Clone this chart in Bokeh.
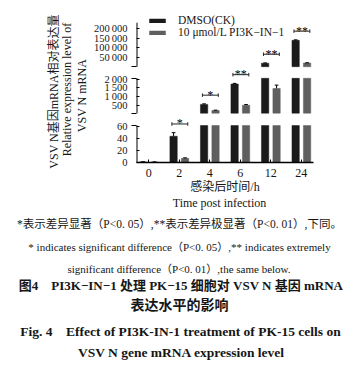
import numpy as np
from bokeh.plotting import figure
from bokeh.layouts import column, row
from bokeh.models import Range1d, FixedTicker, Legend, LegendItem
from bokeh.core.properties import value
from bokeh.embed import file_html
from bokeh.resources import INLINE

# ---------------- data ----------------
times = ["0", "2", "4", "6", "12", "24"]
dmso = [1.0, 44.0, 560.0, 1720.0, 20000.0, 139000.0]
dmso_err = [0.3, 6.0, 30.0, 40.0, 1500.0, 2500.0]
pi3k = [0.9, 7.0, 210.0, 510.0, 1470.0, 21000.0]
pi3k_err = [0.2, 0.8, 20.0, 40.0, 190.0, 1500.0]
signif = ["", "*", "*", "**", "**", "**"]
series_names = ["DMSO(CK)", "10 \u03bcmol/L PI3K\u2212IN\u22121"]

# broken y axis: three segments (value ranges) and their ticks
seg_lo = [0, 60, 2000]
seg_hi = [62, 2050, 230000]
seg_ticks = [[0, 20, 40, 60], [500, 1000, 1500, 2000], [50000, 100000, 150000, 200000]]

y_title_lines = ["VSV N\u57fa\u56e0mRNA\u76f8\u5bf9\u8868\u8fbe\u91cf",
                 "Relative expression level of",
                 "VSV N mRNA"]
x_title_cn = "\u611f\u67d3\u540e\u65f6\u95f4/h"
x_title_en = "Time post infection"
notes = [
    "*\u8868\u793a\u5dee\u5f02\u663e\u8457\uff08P<0. 05\uff09,**\u8868\u793a\u5dee\u5f02\u6781\u663e\u8457\uff08P<0. 01\uff09,\u4e0b\u540c\u3002",
    "* indicates significant difference\uff08P<0. 05\uff09,** indicates extremely",
    "significant difference\uff08P<0. 01\uff09,the same below.",
]
captions = [
    "\u56fe4\u2003PI3K\u2212IN\u22121 \u5904\u7406 PK\u221215 \u7ec6\u80de\u5bf9 VSV N \u57fa\u56e0 mRNA",
    "\u8868\u8fbe\u6c34\u5e73\u7684\u5f71\u54cd",
    "Fig. 4\u2003Effect of PI3K-IN-1 treatment of PK-15 cells on",
    "VSV N gene mRNA expression level",
]

# ---------------- layout constants ----------------
SEG_V0 = [0.0, 51.0, 99.0]     # band bottoms in frame pixels
SEG_V1 = [38.2, 87.0, 144.3]   # band tops in frame pixels
SERIF = "Liberation Serif, Noto Sans CJK SC"
TXT = "#161616"
COLORS = ["#1b1b1b", "#5f5f5f"]
OFFS = [-0.185, 0.19]
BAR_W = 0.24
TOP_H = 196


def to_v(val, k):
    lo, hi = seg_lo[k], seg_hi[k]
    return SEG_V0[k] + (np.clip(val, lo, hi) - lo) * (SEG_V1[k] - SEG_V0[k]) / (hi - lo)


def seg_of(val):
    for k in range(3):
        if val <= seg_hi[k]:
            return k
    return 2


def blank(fig):
    fig.outline_line_color = None
    fig.xgrid.visible = False
    fig.ygrid.visible = False
    try:
        fig.frame_align = False
    except Exception:
        pass


# ---------------- y title block ----------------
yl = figure(width=90, height=TOP_H, x_range=Range1d(0, 90), y_range=Range1d(0, TOP_H),
            output_backend="svg", toolbar_location=None, x_axis_type=None, y_axis_type=None,
            min_border=0)
blank(yl)
for (x, y), t in zip([(53, 91), (66, 89), (81, 95)], y_title_lines):
    yl.text(x=[x], y=[TOP_H - y], text=[t], angle=np.pi / 2, text_align="center",
            text_baseline="middle", text_font=value(SERIF), text_font_size="12px",
            text_color=TXT)

# ---------------- chart ----------------
p = figure(width=266, height=TOP_H, x_range=Range1d(-0.4, 5.4), y_range=Range1d(0, 155),
           output_backend="svg", toolbar_location=None,
           min_border_left=41, min_border_right=43, min_border_top=12,
           min_border_bottom=TOP_H - 167)
blank(p)

xs = np.arange(len(times), dtype=float)

legend_rends = []
errtops = []
for vals, errs, off, color in zip([dmso, pi3k], [dmso_err, pi3k_err], OFFS, COLORS):
    vals = np.array(vals, dtype=float)
    errs = np.array(errs, dtype=float)
    first = None
    for k in range(3):
        m = vals > seg_lo[k]
        r = p.vbar(x=xs[m] + off, width=BAR_W, bottom=SEG_V0[k], top=to_v(vals[m], k),
                   fill_color=color, line_color=color, line_width=0.5)
        if first is None:
            first = r
    legend_rends.append(first)
    ks = [seg_of(v) for v in vals]
    vb = np.array([to_v(v, k) for v, k in zip(vals, ks)])
    vt = np.array([to_v(v + e, k) for v, e, k in zip(vals, errs, ks)])
    errtops.append(vt)
    p.segment(x0=xs + off, y0=vb, x1=xs + off, y1=vt, line_color="black", line_width=1)
    p.segment(x0=xs + off - 0.06, y0=vt, x1=xs + off + 0.06, y1=vt, line_color="black", line_width=1)

# significance brackets
top_v = np.maximum(errtops[0], errtops[1]) + 9
for i, s in enumerate(signif):
    if not s:
        continue
    x0, x1 = xs[i] - 0.24, xs[i] + 0.28
    y = top_v[i]
    p.segment(x0=[x0], y0=[y], x1=[x1], y1=[y], line_color="#222222", line_width=1)
    p.segment(x0=[x0, x1], y0=[y - 1.8, y - 1.8], x1=[x0, x1], y1=[y + 1.8, y + 1.8],
              line_color="#222222", line_width=1)
    p.text(x=[(x0 + x1) / 2], y=[y + 0.5], text=[s], text_align="center",
           text_baseline="alphabetic", text_font=value(SERIF), text_font_size="12px",
           text_color="black")

# y axis pieces (broken axis line)
for k in range(3):
    p.segment(x0=[-0.4], y0=[SEG_V0[k]], x1=[-0.4], y1=[SEG_V1[k]], line_color="black", line_width=2)

# y axis ticks
tick_pos = []
overrides = {}
for k in range(3):
    for t in seg_ticks[k]:
        v = round(float(to_v(t, k)), 3)
        tick_pos.append(v)
        overrides[v] = f"{t:,}".replace(",", "\u2009")
caps = [round(SEG_V1[0], 3), round(SEG_V0[1], 3), round(SEG_V1[1], 3), round(SEG_V0[2], 3)]
p.yaxis.ticker = FixedTicker(ticks=tick_pos, minor_ticks=caps)
p.yaxis.major_label_overrides = overrides
p.yaxis.axis_line_alpha = 0
p.yaxis.major_tick_out = 0
p.yaxis.major_tick_in = 3
p.yaxis.minor_tick_out = 5
p.yaxis.minor_tick_in = 0
p.yaxis.major_tick_line_color = "black"
p.yaxis.minor_tick_line_color = "black"
p.yaxis.major_label_standoff = 4
p.yaxis.major_label_text_font = SERIF
p.yaxis.major_label_text_font_size = "10.5px"
p.yaxis.major_label_text_color = TXT

# x axis
p.xaxis.ticker = FixedTicker(ticks=list(xs), minor_ticks=[])
p.xaxis.major_label_overrides = {float(i): t for i, t in enumerate(times)}
p.xaxis.axis_line_color = "black"
p.xaxis.axis_line_width = 1.3
p.xaxis.major_tick_in = 3
p.xaxis.major_tick_out = 0
p.xaxis.minor_tick_out = 0
p.xaxis.minor_tick_in = 0
p.xaxis.major_label_standoff = 6
p.xaxis.major_label_text_font = SERIF
p.xaxis.major_label_text_font_size = "12px"
p.xaxis.major_label_text_color = TXT
p.xaxis.axis_label = x_title_cn
p.xaxis.axis_label_text_font = SERIF
p.xaxis.axis_label_text_font_size = "12px"
p.xaxis.axis_label_text_font_style = "normal"
p.xaxis.axis_label_text_color = TXT
p.xaxis.axis_label_standoff = 0

# legend
legend = Legend(items=[LegendItem(label=series_names[0], renderers=[legend_rends[0]]),
                       LegendItem(label=series_names[1], renderers=[legend_rends[1]])],
                location=(11, 124), glyph_width=20, glyph_height=5, label_standoff=11,
                spacing=-8, padding=0, margin=0, border_line_color=None,
                background_fill_alpha=0, label_text_font=SERIF,
                label_text_font_size="11.5px", label_height=11, label_text_color=TXT)
p.add_layout(legend)

# ---------------- caption block ----------------
c = figure(width=356, height=366 - TOP_H, x_range=Range1d(0, 356), y_range=Range1d(366, TOP_H),
           output_backend="svg", toolbar_location=None, x_axis_type=None, y_axis_type=None,
           min_border=0)
blank(c)
c.text(x=[219], y=[202], text=[x_title_en], text_align="center", text_baseline="middle",
       text_font=value(SERIF), text_font_size="12px", text_color=TXT)
note_xy = [(179, 223), (179, 246), (178.5, 268)]
note_sz = ["11.5px", "11px", "11px"]
for (x, y), t, sz in zip(note_xy, notes, note_sz):
    c.text(x=[x], y=[y], text=[t], text_align="center", text_baseline="middle",
           text_font=value(SERIF), text_font_size=sz, text_color=TXT)
cap_xy = [(180.5, 285), (179, 305), (180, 331), (181, 352)]
cap_sz = ["13px", "14px", "13.5px", "13.5px"]
for (x, y), t, sz in zip(cap_xy, captions, cap_sz):
    c.text(x=[x], y=[y], text=[t], text_align="center", text_baseline="middle",
           text_font=value(SERIF), text_font_size=sz, text_font_style="bold",
           text_color=TXT)

layout = column(row(yl, p, spacing=0), c, spacing=0)
open("out.html", "w").write(file_html(layout, INLINE))
